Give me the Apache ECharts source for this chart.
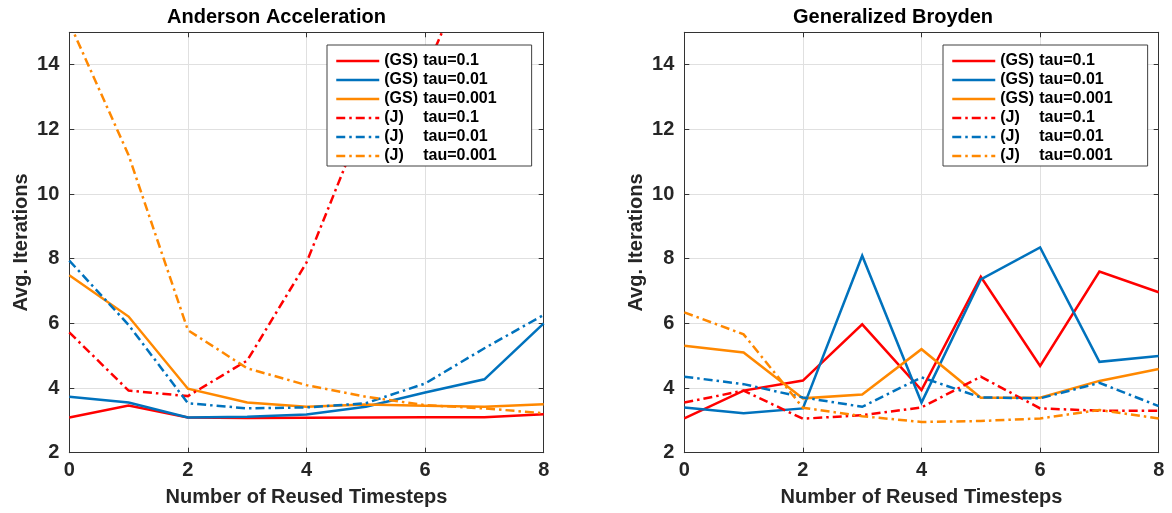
<!DOCTYPE html>
<html>
<head>
<meta charset="utf-8">
<script src="https://cdn.jsdelivr.net/npm/echarts@6/dist/echarts.min.js"></script>
<style>
html,body{margin:0;padding:0;background:#fff;}
#chart{width:1172px;height:513px;}
</style>
</head>
<body>
<div id="chart"></div>
<script>
// ---- data ----
const reusedSteps = [0, 1, 2, 3, 4, 5, 6, 7, 8];
const seriesNames = ['(GS) tau=0.1', '(GS) tau=0.01', '(GS) tau=0.001', '(J) tau=0.1', '(J) tau=0.01', '(J) tau=0.001'];
const panelTitles = ['Anderson Acceleration', 'Generalized Broyden'];
const xTicks = [0, 2, 4, 6, 8];
const yTicks = [2, 4, 6, 8, 10, 12, 14];

// Anderson Acceleration
const aaGS01   = [3.09, 3.46, 3.09, 3.07, 3.08, 3.09, 3.10, 3.10, 3.19];
const aaGS001  = [3.73, 3.55, 3.09, 3.11, 3.18, 3.42, 3.86, 4.27, 6.00];
const aaGS0001 = [7.49, 6.21, 3.98, 3.55, 3.42, 3.49, 3.45, 3.42, 3.50];
const aaJ01    = [5.72, 3.92, 3.75, 4.85, 7.88, 12.45, 13.8, 18.0, 24.0];
const aaJ001   = [7.94, 5.95, 3.53, 3.37, 3.40, 3.53, 4.14, 5.23, 6.26];
const aaJ0001  = [15.3, 11.2, 5.79, 4.61, 4.09, 3.73, 3.47, 3.37, 3.22];

// Generalized Broyden
const gbGS01   = [3.06, 3.92, 4.23, 5.97, 3.94, 7.44, 4.68, 7.60, 6.96];
const gbGS001  = [3.40, 3.22, 3.37, 8.09, 3.55, 7.36, 8.35, 4.81, 4.99];
const gbGS0001 = [5.31, 5.10, 3.68, 3.80, 5.20, 3.70, 3.70, 4.22, 4.59];
const gbJ01    = [3.55, 3.92, 3.05, 3.16, 3.40, 4.35, 3.37, 3.30, 3.30];
const gbJ001   = [4.35, 4.12, 3.71, 3.42, 4.33, 3.71, 3.68, 4.16, 3.44];
const gbJ0001  = [6.34, 5.66, 3.39, 3.13, 2.95, 2.98, 3.06, 3.32, 3.06];

// ---- styling ----
const FONT = '"Liberation Sans", Arial, Helvetica, sans-serif';
const AX = '#333333';
const GRIDC = '#e0e0e0';
const colors = ['#ff0000', '#0072bd', '#ff8800', '#ff0000', '#0072bd', '#ff8800'];
const dashDot = [9, 4, 2.5, 4];
const LW = 2.5;

const panels = [
  {data: [aaGS01, aaGS001, aaGS0001, aaJ01, aaJ001, aaJ0001], left: 69.3, titleLeft: 162, legendLeft: 327},
  {data: [gbGS01, gbGS001, gbGS0001, gbJ01, gbJ001, gbJ0001], left: 684.3, titleLeft: 788, legendLeft: 943}
];

const grids = [], xAxes = [], yAxes = [], series = [], legends = [], titles = [];

panels.forEach((p, gi) => {
  grids.push({left: p.left, top: 32.3, width: 474.4, height: 420.4, containLabel: false});
  titles.push({text: panelTitles[gi], left: p.titleLeft, top: 2,
    textStyle: {fontFamily: FONT, fontSize: 20, fontWeight: 'bold', color: '#000'}});
  xAxes.push({
    type: 'value', gridIndex: gi, min: xTicks[0], max: xTicks[xTicks.length - 1], interval: 2, position: 'bottom',
    axisLine: {show: true, onZero: false, lineStyle: {color: AX, width: 1}},
    axisTick: {show: true, inside: true, length: 5, lineStyle: {color: AX}},
    axisLabel: {fontFamily: FONT, fontSize: 20, fontWeight: 'bold', color: '#262626', margin: 8},
    splitLine: {show: true, lineStyle: {color: GRIDC, width: 1}},
    name: 'Number of Reused Timesteps', nameLocation: 'middle', nameGap: 35,
    nameTextStyle: {fontFamily: FONT, fontSize: 20, fontWeight: 'bold', color: '#262626'}
  });
  xAxes.push({
    type: 'value', gridIndex: gi, min: 0, max: 8, interval: 2, position: 'top',
    axisLine: {show: true, onZero: false, lineStyle: {color: AX, width: 1}},
    axisTick: {show: true, inside: true, length: 5, lineStyle: {color: AX}},
    axisLabel: {show: false}, splitLine: {show: false}
  });
  yAxes.push({
    type: 'value', gridIndex: gi, min: yTicks[0], max: 15, interval: 2, position: 'left',
    axisLine: {show: true, onZero: false, lineStyle: {color: AX, width: 1}},
    axisTick: {show: true, inside: true, length: 5, lineStyle: {color: AX}},
    axisLabel: {fontFamily: FONT, fontSize: 20, fontWeight: 'bold', color: '#262626', margin: 10, showMaxLabel: false,
      formatter: v => (yTicks.indexOf(v) >= 0 ? String(v) : '')},
    splitLine: {show: true, lineStyle: {color: GRIDC, width: 1}},
    name: 'Avg. Iterations', nameLocation: 'middle', nameGap: 38,
    nameTextStyle: {fontFamily: FONT, fontSize: 20, fontWeight: 'bold', color: '#262626'}
  });
  yAxes.push({
    type: 'value', gridIndex: gi, min: 2, max: 15, interval: 2, position: 'right',
    axisLine: {show: true, onZero: false, lineStyle: {color: AX, width: 1}},
    axisTick: {show: true, inside: true, length: 5, lineStyle: {color: AX}},
    axisLabel: {show: false}, splitLine: {show: false}
  });
  p.data.forEach((vals, si) => {
    series.push({
      name: seriesNames[si], type: 'line', xAxisIndex: gi * 2, yAxisIndex: gi * 2,
      data: reusedSteps.map((x, i) => [x, vals[i]]),
      symbol: 'none', clip: true, silent: true,
      lineStyle: {color: colors[si], width: LW, type: si < 3 ? 'solid' : dashDot, cap: 'butt', join: 'miter'},
      itemStyle: {color: colors[si]}
    });
  });
  legends.push({
    data: seriesNames, left: p.legendLeft, top: 45, orient: 'vertical',
    itemWidth: 43, itemHeight: 14, itemGap: 3, padding: [8, 35, 2, 8],
    borderColor: '#404040', borderWidth: 1, borderRadius: 0, backgroundColor: '#ffffff',
    selectedMode: false,
    itemStyle: {color: 'rgba(0,0,0,0)', borderWidth: 0, opacity: 0},
    lineStyle: {width: LW},
    formatter: name => {
      const parts = name.split(' ');
      return '{p|' + parts[0] + '}{t|' + parts[1] + '}';
    },
    textStyle: {
      fontFamily: FONT, fontSize: 16, fontWeight: 'bold', color: '#000', lineHeight: 14,
      rich: {
        p: {fontFamily: FONT, fontSize: 16, fontWeight: 'bold', color: '#000', width: 39, lineHeight: 14},
        t: {fontFamily: FONT, fontSize: 16, fontWeight: 'bold', color: '#000', lineHeight: 14}
      }
    }
  });
});

const chart = echarts.init(document.getElementById('chart'), null, {renderer: 'canvas'});
chart.setOption({
  animation: false,
  backgroundColor: '#ffffff',
  title: titles,
  grid: grids,
  xAxis: xAxes,
  yAxis: yAxes,
  legend: legends,
  series: series
});
</script>
</body>
</html>
